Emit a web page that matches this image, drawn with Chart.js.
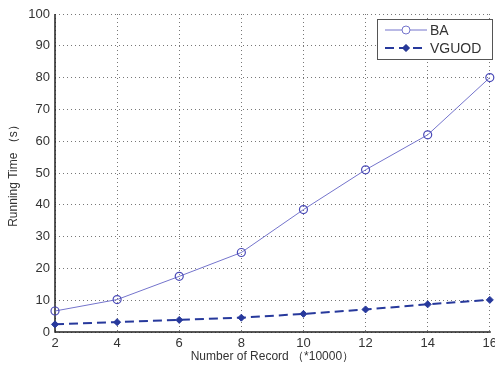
<!DOCTYPE html>
<html>
<head>
<meta charset="utf-8">
<script src="https://cdn.jsdelivr.net/npm/chart.js@4"></script>
<style>
  html, body { margin: 0; padding: 0; background: #fff; }
  #wrap { width: 495px; height: 368px; }
</style>
</head>
<body>
<div id="wrap"><canvas id="c" width="495" height="368"></canvas></div>
<script>
// data
const records = [2, 4, 6, 8, 10, 12, 14, 16];
const baTime = [6.6, 10.2, 17.5, 25.0, 38.5, 51.0, 62.0, 80.0];
const vguodTime = [2.4, 3.1, 3.8, 4.5, 5.7, 7.1, 8.7, 10.1];
const xTicks = [2, 4, 6, 8, 10, 12, 14, 16];
const yTicks = [0, 10, 20, 30, 40, 50, 60, 70, 80, 90, 100];

const baColor = '#7474cc';
const vgColor = '#27399c';
const font = 'Arial, "Liberation Sans", sans-serif';

// solid left/bottom axis lines (grid dash would otherwise apply to them too)
const axisLines = {
  id: 'axisLines',
  beforeDatasetsDraw(chart) {
    const { ctx, chartArea: a } = chart;
    ctx.save();
    ctx.strokeStyle = '#222';
    ctx.lineWidth = 1.5;
    ctx.beginPath();
    ctx.moveTo(a.left, a.top);
    ctx.lineTo(a.left, a.bottom);
    ctx.lineTo(a.right + 1, a.bottom);
    ctx.stroke();
    ctx.restore();
  }
};

// legend box drawn in the upper right, matlab style
const boxLegend = {
  id: 'boxLegend',
  afterDraw(chart) {
    const ctx = chart.ctx;
    const x0 = 377, y0 = 19, w = 115, h = 40;
    ctx.save();
    ctx.fillStyle = '#fff';
    ctx.fillRect(x0, y0, w, h);
    ctx.strokeStyle = '#555';
    ctx.lineWidth = 1;
    ctx.strokeRect(x0 + 0.5, y0 + 0.5, w, h);
    chart.data.datasets.forEach((ds, i) => {
      const y = y0 + 11 + i * 18;
      ctx.strokeStyle = ds.borderColor;
      ctx.lineWidth = ds.borderWidth;
      ctx.setLineDash(ds.borderDash || []);
      ctx.beginPath();
      ctx.moveTo(x0 + 8, y);
      ctx.lineTo(x0 + 50, y);
      ctx.stroke();
      ctx.setLineDash([]);
      ctx.lineWidth = 1;
      Chart.helpers.drawPoint(ctx, {
        pointStyle: ds.pointStyle, radius: ds.pointRadius, borderWidth: 1, rotation: 0
      }, x0 + 29, y);
      if (ds.pointStyle !== 'circle') { ctx.fillStyle = ds.pointBackgroundColor; ctx.fill(); }
      ctx.fillStyle = '#333';
      ctx.font = '14px ' + font;
      ctx.textBaseline = 'middle';
      ctx.fillText(ds.label, x0 + 53, y + 1);
    });
    ctx.restore();
  }
};

new Chart(document.getElementById('c'), {
  type: 'line',
  data: {
    labels: records,
    datasets: [
      {
        label: 'BA',
        data: records.map((r, i) => ({ x: r, y: baTime[i] })),
        borderColor: baColor,
        borderWidth: 1,
        pointStyle: 'circle',
        pointRadius: 4,
        pointBorderWidth: 1.2,
        pointBorderColor: '#4a4ab8',
        pointBackgroundColor: 'rgba(0,0,0,0)',
        tension: 0
      },
      {
        label: 'VGUOD',
        data: records.map((r, i) => ({ x: r, y: vguodTime[i] })),
        borderColor: vgColor,
        borderWidth: 2,
        borderDash: [9, 5],
        pointStyle: 'rectRot',
        pointRadius: 3.5,
        pointBorderWidth: 1,
        pointBorderColor: vgColor,
        pointBackgroundColor: vgColor,
        tension: 0
      }
    ]
  },
  options: {
    responsive: false,
    animation: false,
    clip: false,
    layout: { padding: { top: 14, right: 1, left: 0, bottom: 0 } },
    plugins: { legend: { display: false }, tooltip: { enabled: false } },
    scales: {
      x: {
        type: 'linear',
        min: 2, max: 16,
        afterBuildTicks: s => { s.ticks = xTicks.map(v => ({ value: v })); },
        afterFit: s => { s.height = 36; s.paddingLeft = 0; s.paddingRight = 0; },
        grid: { color: '#777', lineWidth: 1, drawTicks: false },
        border: { display: false, dash: [1, 3] },
        ticks: { color: '#333', font: { family: font, size: 13 }, padding: 4, maxRotation: 0 },
        title: {
          display: true, text: 'Number of Record （*10000）',
          color: '#333', font: { family: font, size: 12 }, padding: { top: 0, bottom: 4 }
        }
      },
      y: {
        min: 0, max: 100,
        afterBuildTicks: s => { s.ticks = yTicks.map(v => ({ value: v })); },
        afterFit: s => { s.width = 55; },
        grid: { color: '#777', lineWidth: 1, drawTicks: false },
        border: { display: false, dash: [1, 3] },
        ticks: { color: '#333', font: { family: font, size: 13 }, padding: 5 },
        title: {
          display: true, text: 'Running Time （s）',
          color: '#333', font: { family: font, size: 12 }, padding: { top: 6, bottom: 0 }
        }
      }
    }
  },
  plugins: [axisLines, boxLegend]
});
</script>
</body>
</html>
